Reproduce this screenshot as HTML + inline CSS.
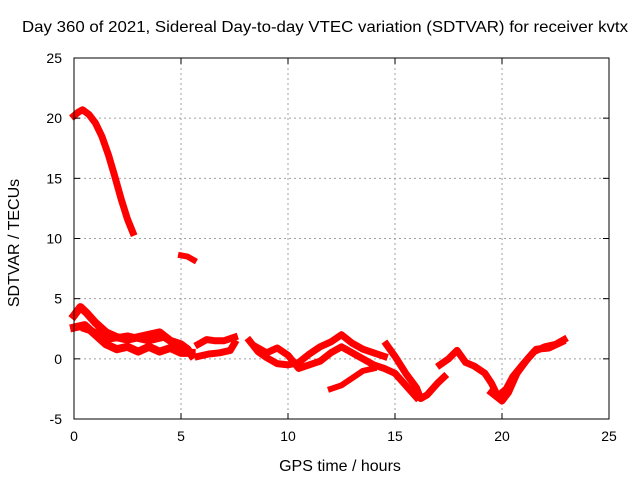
<!DOCTYPE html>
<html><head><meta charset="utf-8"><style>
body{margin:0;background:#fff}
svg text{font-family:"Liberation Sans",sans-serif;font-size:14px;fill:#000}
</style></head><body>
<svg id="chart" width="640" height="480" xmlns="http://www.w3.org/2000/svg">
<rect width="640" height="480" fill="#fff"/>
<g id="grid"></g><g id="series"></g><g id="axes"></g>
<text x="22" y="32" style="font-size:16px" textLength="606" lengthAdjust="spacingAndGlyphs">Day 360 of 2021, Sidereal Day-to-day VTEC variation (SDTVAR) for receiver kvtx</text>
<text x="340" y="471" text-anchor="middle" style="font-size:16px">GPS time / hours</text>
<text transform="translate(19,243) rotate(-90)" text-anchor="middle" style="font-size:16px">SDTVAR / TECUs</text>
</svg>
<script>
const xTicks=[0,5,10,15,20,25];
const yTicks=[-5,0,5,10,15,20,25];
const seriesArc=[[0,20.2],[0.2,20.5],[0.4,20.7],[0.7,20.3],[1,19.6],[1.3,18.5],[1.6,17],[1.9,15.2],[2.2,13.3],[2.5,11.6],[2.75,10.5]];
const seriesSmall=[[5,8.6],[5.3,8.5],[5.6,8.2]];
const seriesC1=[[0,3.6],[0.3,4.3],[0.6,3.8],[1,3],[1.5,2.2],[2,1.8],[2.5,1.6],[3,1.8],[3.5,2],[4,2.2],[4.5,1.5],[5,1.2],[5.3,0.8],[5.5,0.3]];
const seriesC2=[[0,2.6],[0.5,2.8],[1,2],[1.5,1.2],[2,0.8],[2.5,1],[3,0.6],[3.5,1],[4,0.6],[4.5,0.9],[5,0.5],[5.5,0.5]];
const seriesC3=[[0.5,2.5],[1,2.2],[1.5,1.6],[2.5,1.9],[3.5,1.5],[4.2,1.8],[5,0.9]];
const seriesD1=[[5.8,1.2],[6.2,1.6],[6.6,1.5],[7,1.5],[7.5,1.8]];
const seriesD2=[[5.8,0.2],[6.3,0.4],[6.8,0.5],[7.3,0.7],[7.5,1.3]];
const seriesE1=[[8.2,1.5],[8.6,0.6],[9,0.1],[9.5,-0.4],[10,-0.5],[10.5,-0.3],[11,0.4],[11.5,1],[12,1.4],[12.5,2],[13,1.3],[13.5,0.8],[14,0.5],[14.5,0.2]];
const seriesE2=[[8.5,1],[9,0.5],[9.5,0.9],[10,0.3],[10.5,-0.8],[11,-0.5],[11.5,-0.2],[12,0.5],[12.5,1],[13,0.5],[13.5,0],[14,-0.5],[14.5,-0.8],[15,-1.2],[15.5,-2.2],[16,-3.2]];
const seriesF1=[[14.6,1.2],[15,0.2],[15.5,-1.2],[16,-2.4],[16.2,-3.3],[16.5,-3],[17,-2],[17.3,-1.5]];
const seriesF2=[[12,-2.5],[12.5,-2.2],[13,-1.6],[13.5,-1],[14,-0.8]];
const seriesG1=[[17.1,-0.5],[17.5,0],[17.9,0.7],[18.3,-0.3],[18.7,-0.6],[19.2,-1.2],[19.5,-2],[19.8,-3.1],[20.2,-2.5],[20.5,-1.5],[21,-0.4],[21.5,0.6],[22,1],[22.5,1.2],[22.9,1.6]];
const seriesG2=[[19.5,-2.8],[20,-3.5],[20.3,-2.8],[20.7,-1.2],[21.2,0],[21.6,0.8],[22.2,0.9],[22.8,1.4]];
const L=74,R=609,T=58,B=419;
const sx=v=>L+(v-0)/(25-0)*(R-L);
const sy=v=>B-(v+5)/30*(B-T);
const NS="http://www.w3.org/2000/svg";
function mk(tag,attrs,parent){const e=document.createElementNS(NS,tag);for(const k in attrs)e.setAttribute(k,attrs[k]);parent.appendChild(e);return e;}
const grid=document.getElementById('grid'),axes=document.getElementById('axes'),ser=document.getElementById('series');
xTicks.forEach(t=>{
 if(t>0&&t<25){const g=mk('line',{x1:sx(t),x2:sx(t),y1:T,y2:B,stroke:'#a0a0a0','stroke-dasharray':'2,3'},grid);
 
 }
 const tk=mk('line',{x1:sx(t),x2:sx(t),y1:B,y2:B-6,stroke:'#000'},axes);
 
 
 const tk2=mk('line',{x1:sx(t),x2:sx(t),y1:T,y2:T+6,stroke:'#000'},axes);
 
 
 const lb=mk('text',{x:sx(t),y:B+22,'text-anchor':'middle'},axes);lb.textContent=t;
 
 
});
yTicks.forEach(t=>{
 if(t>-5&&t<25){const g=mk('line',{x1:L,x2:R,y1:sy(t),y2:sy(t),stroke:'#a0a0a0','stroke-dasharray':'2,3'},grid);
 
 }
 const tk=mk('line',{x1:L,x2:L+6,y1:sy(t),y2:sy(t),stroke:'#000'},axes);
 
 
 const tk2=mk('line',{x1:R,x2:R-6,y1:sy(t),y2:sy(t),stroke:'#000'},axes);
 
 
 const lb=mk('text',{x:L-12,y:sy(t)+5,'text-anchor':'end'},axes);lb.textContent=t;
 
 
});
const frame=mk('rect',{x:L,y:T,width:R-L,height:B-T,fill:'none',stroke:'#000'},axes);


const all=[[seriesArc,7],[seriesSmall,6],[seriesC1,8],[seriesC2,8],[seriesC3,7],[seriesD1,7],[seriesD2,7],[seriesE1,7],[seriesE2,7],[seriesF1,7],[seriesF2,6],[seriesG1,7],[seriesG2,7]];
all.forEach(([s,w])=>{
 const p=mk('polyline',{points:s.map(d=>sx(d[0])+','+sy(d[1])).join(' '),fill:'none',stroke:'#ff0000','stroke-width':w,'stroke-linejoin':'round','stroke-linecap':'square'},ser);
 
 
});
</script>
</body></html>
